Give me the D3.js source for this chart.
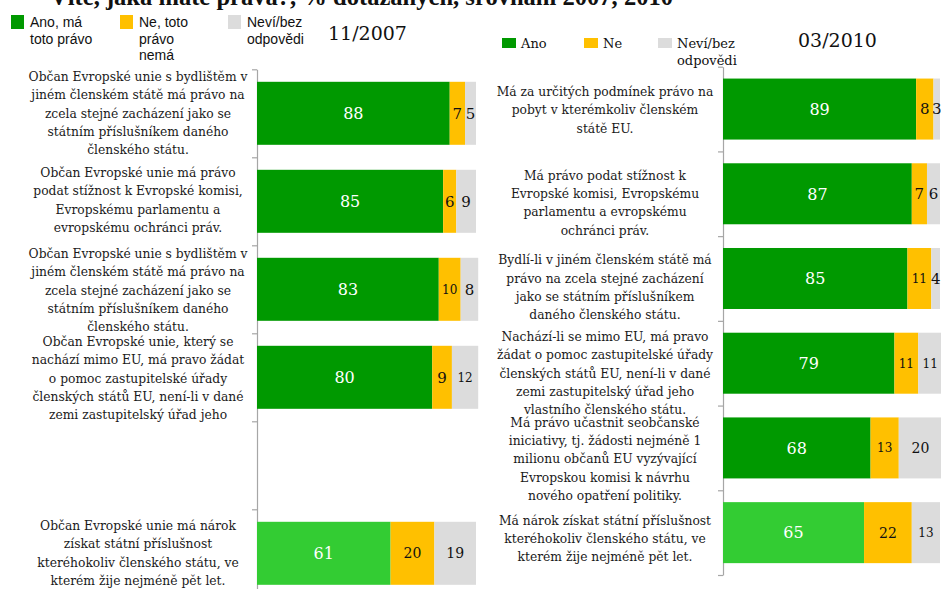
<!DOCTYPE html>
<html><head><meta charset="utf-8">
<script src="https://cdn.jsdelivr.net/npm/d3@7"></script>
<style>body{margin:0;background:#fff;} svg{display:block}</style>
</head><body>
<script>
// ---------- DATA ----------
const title = "Víte, jaká máte práva?, % dotázaných, srovnání 2007, 2010";

const legend2007 = [["Ano, má", "toto právo"], ["Ne, toto", "právo", "nemá"], ["Neví/bez", "odpovědi"]];
const legend2010 = [["Ano"], ["Ne"], ["Neví/bez", "odpovědi"]];
const period2007 = "11/2007";
const period2010 = "03/2010";

const categories2007 = ["L1", "L2", "L3", "L4", "L5", "L6"];
const labels2007 = [
  ["Občan Evropské unie s bydlištěm v", "jiném členském státě má právo na", "zcela stejné zacházení jako se", "státním příslušníkem daného", "členského státu."],
  ["Občan Evropské unie má právo", "podat stížnost k Evropské komisi,", "Evropskému parlamentu a", "evropskému ochránci práv."],
  ["Občan Evropské unie s bydlištěm v", "jiném členském státě má právo na", "zcela stejné zacházení jako se", "státním příslušníkem daného", "členského státu."],
  ["Občan Evropské unie, který se", "nachází mimo EU, má pravo žádat", "o pomoc zastupitelské úřady", "členských států EU, není-li v dané", "zemi zastupitelský úřad jeho"],
  [],
  ["Občan Evropské unie má nárok", "získat státní příslušnost", "kteréhokoliv členského státu, ve", "kterém žije nejméně pět let."]
];
const yes2007 = [88, 85, 83, 80, null, 61];
const no2007  = [7, 6, 10, 9, null, 20];
const dk2007  = [5, 9, 8, 12, null, 19];

const categories2010 = ["R1", "R2", "R3", "R4", "R5", "R6"];
const labels2010 = [
  ["Má za určitých podmínek právo na", "pobyt v kterémkoliv členském", "státě EU."],
  ["Má právo podat stížnost k", "Evropské komisi, Evropskému", "parlamentu a evropskému", "ochránci práv."],
  ["Bydlí-li v jiném členském státě má", "právo na zcela stejné zacházení", "jako se státním příslušníkem", "daného členského státu."],
  ["Nachází-li se mimo EU, má pravo", "žádat o pomoc zastupitelské úřady", "členských států EU, není-li v dané", "zemi zastupitelský úřad jeho", "vlastního členského státu."],
  ["Má právo učastnit seobčanské", "iniciativy, tj. žádosti nejméně 1", "milionu občanů EU vyzývající", "Evropskou komisi k návrhu", "nového opatření politiky."],
  ["Má nárok získat státní příslušnost", "kteréhokoliv členského státu, ve", "kterém žije nejméně pět let."]
];
const yes2010 = [89, 87, 85, 79, 68, 65];
const no2010  = [8, 7, 11, 11, 13, 22];
const dk2010  = [3, 6, 4, 11, 20, 13];

// ---------- STYLE ----------
const GREEN = "#009900", LIGHT = "#33cc33", YELLOW = "#ffc000", GREY = "#dcdcdc", AXIS = "#a6a6a6";
const SERIF = "'DejaVu Serif', serif";
const SANS = "'Liberation Sans', Arial, sans-serif";

const W = 941, H = 589;
const svg = d3.select("body").append("svg").attr("width", W).attr("height", H);

// title (cut off at top, as in the reference)
svg.append("text").attr("x", 50).attr("y", 5).attr("font-family", "'Liberation Serif', serif")
  .attr("font-weight", "bold").attr("font-size", 25).attr("fill", "#111")
  .attr("textLength", 623).attr("lengthAdjust", "spacingAndGlyphs").text(title);

function drawPanel(cfg) {
  const g = svg.append("g");
  const x = d3.scaleLinear().domain([0, 100]).range([cfg.x0, cfg.x1]);
  const y = d3.scaleBand().domain(cfg.cats).range([cfg.y0, cfg.y1])
    .paddingInner(cfg.pad).paddingOuter(cfg.pad / 2);

  // axis with ticks at slot boundaries
  const yb = d3.scaleLinear().domain([0, cfg.cats.length]).range([cfg.y0, cfg.y1]);
  const ax = g.append("g").attr("transform", `translate(${cfg.x0},0)`)
    .call(d3.axisLeft(yb).tickValues(d3.range(cfg.cats.length + 1)).tickSize(5).tickSizeOuter(0).tickFormat(""));
  ax.selectAll("path,line").attr("stroke", AXIS).attr("stroke-width", 1.2);

  const rows = cfg.cats.map((c, i) => ({ id: c, i, yes: cfg.yes[i], no: cfg.no[i], dk: cfg.dk[i], lines: cfg.labels[i] }));
  const last = rows.length - 1;

  rows.forEach(r => {
    if (r.yes == null) return;
    const segs = [
      { v: r.yes, start: 0, fill: r.i === last ? LIGHT : GREEN, tc: "#fff", key: "yes" },
      { v: r.no, start: r.yes, fill: YELLOW, tc: "#111", key: "no" },
      { v: r.dk, start: r.yes + r.no, fill: GREY, tc: "#111", key: "dk" }
    ];
    segs.forEach(s => {
      const xs = x(s.start), xe = x(s.start + s.v);
      g.append("rect").attr("x", xs).attr("y", y(r.id)).attr("width", xe - xs)
        .attr("height", y.bandwidth()).attr("fill", s.fill);
    });
    segs.forEach(s => {
      const xs = x(s.start), xe = x(s.start + s.v), w = xe - xs;
      const txt = String(s.v);
      let fs = s.key === "yes" ? 16 : (txt.length === 1 ? 15 : (w < 30 ? 12 : 14));
      g.append("text").attr("x", (xs + xe) / 2).attr("y", y(r.id) + y.bandwidth() / 2)
        .attr("dy", "0.36em").attr("text-anchor", "middle").attr("font-family", SERIF)
        .attr("font-size", fs).attr("fill", s.tc).text(txt);
    });
  });

  // category labels
  rows.forEach(r => {
    const n = r.lines.length;
    if (!n) return;
    const cy = y(r.id) + y.bandwidth() / 2 + (cfg.labelDy ? cfg.labelDy[r.i] : 0);
    const lh = 18.3;
    const t = g.append("text").attr("text-anchor", "middle").attr("font-family", SERIF)
      .attr("font-size", 12.3).attr("fill", "#1a1a1a");
    r.lines.forEach((ln, k) => {
      t.append("tspan").attr("x", cfg.labelX).attr("y", cy + (k - (n - 1) / 2) * lh).attr("dy", "0.35em").text(ln);
    });
  });
}

drawPanel({ cats: categories2007, labels: labels2007, yes: yes2007, no: no2007, dk: dk2007,
  x0: 257, x1: 476, y0: 69.3, y1: 597.3, pad: 0.284, labelX: 138, labelDy: [0, -1, 1, 1, 0, 0] });
drawPanel({ cats: categories2010, labels: labels2010, yes: yes2010, no: no2010, dk: dk2010,
  x0: 723, x1: 940, y0: 66.7, y1: 575, pad: 0.28, labelX: 605, labelDy: [1, 9, 9, 10, 11, 6] });

// legends
const legColors = [GREEN, YELLOW, GREY];
const leg1x = [11, 120, 228];
legend2007.forEach((lines, i) => {
  svg.append("rect").attr("x", leg1x[i]).attr("y", 15).attr("width", 13).attr("height", 14).attr("fill", legColors[i]);
  const t = svg.append("text").attr("font-family", SANS).attr("font-size", 14).attr("fill", "#111");
  lines.forEach((ln, k) => t.append("tspan").attr("x", leg1x[i] + 19).attr("y", 27 + k * 16.5).text(ln));
});
svg.append("text").attr("x", 328).attr("y", 40).attr("font-family", SERIF).attr("font-size", 19)
  .attr("fill", "#111").text(period2007);

const leg2x = [502, 584, 658];
legend2010.forEach((lines, i) => {
  svg.append("rect").attr("x", leg2x[i]).attr("y", 38).attr("width", 14).attr("height", 10).attr("fill", legColors[i]);
  const t = svg.append("text").attr("font-family", SERIF).attr("font-size", 13).attr("fill", "#111");
  lines.forEach((ln, k) => t.append("tspan").attr("x", leg2x[i] + 19).attr("y", 48 + k * 17).text(ln));
});
svg.append("text").attr("x", 798).attr("y", 47).attr("font-family", SERIF).attr("font-size", 19)
  .attr("fill", "#111").text(period2010);
</script>
</body></html>
